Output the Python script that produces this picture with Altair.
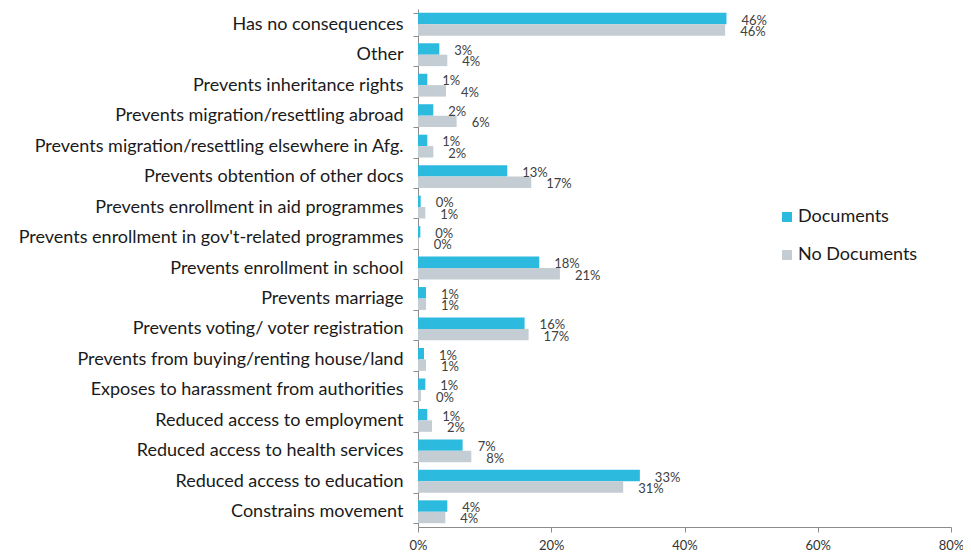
import altair as alt
import pandas as pd

categories = [
    "Has no consequences",
    "Other",
    "Prevents inheritance rights",
    "Prevents migration/resettling abroad",
    "Prevents migration/resettling elsewhere in Afg.",
    "Prevents obtention of other docs",
    "Prevents enrollment in aid programmes",
    "Prevents enrollment in gov't-related programmes",
    "Prevents enrollment in school",
    "Prevents marriage",
    "Prevents voting/ voter registration",
    "Prevents from buying/renting house/land",
    "Exposes to harassment from authorities",
    "Reduced access to employment",
    "Reduced access to health services",
    "Reduced access to education",
    "Constrains movement",
]
documents = [46.3, 3.2, 1.4, 2.3, 1.4, 13.4, 0.4, 0.35, 18.2, 1.2, 16.0, 0.9, 1.1, 1.4, 6.7, 33.3, 4.4]
no_documents = [46.1, 4.4, 4.2, 5.8, 2.3, 17.0, 1.1, 0.1, 21.3, 1.2, 16.6, 1.2, 0.45, 2.1, 8.0, 30.8, 4.1]
series = ["Documents", "No Documents"]
colors = ["#2DBADF", "#C4CDD3"]
x_ticks = [0, 20, 40, 60, 80]

rows = []
for c, d, n in zip(categories, documents, no_documents):
    rows.append({"category": c, "series": series[0], "value": d})
    rows.append({"category": c, "series": series[1], "value": n})
df = pd.DataFrame(rows)
df["label"] = df["value"].round().astype(int).astype(str) + "%"

FONT = "Lato"

y_enc = alt.Y(
    "category:N",
    sort=categories,
    scale=alt.Scale(paddingInner=0.25, paddingOuter=0.125),
    axis=alt.Axis(
        title=None,
        tickBand="extent",
        labelFont=FONT,
        labelFontSize=18,
        labelColor="#1a1a1a",
        labelLimit=420,
        domainColor="#8c8c8c",
        tickColor="#8c8c8c",
        tickSize=5,
        labelPadding=10,
        grid=False,
    ),
)
yoff_enc = alt.YOffset("series:N", sort=series)
x_enc = alt.X(
    "value:Q",
    scale=alt.Scale(domain=[0, 80]),
    axis=alt.Axis(
        title=None,
        values=x_ticks,
        labelExpr="datum.value + '%'",
        labelFont=FONT,
        labelFontSize=13,
        labelColor="#333333",
        labelFlush=False,
        domainColor="#8c8c8c",
        tickColor="#8c8c8c",
        tickSize=5,
        labelPadding=7,
        grid=False,
    ),
)

bars = alt.Chart(df).mark_bar().encode(
    y=y_enc,
    yOffset=yoff_enc,
    x=x_enc,
    color=alt.Color(
        "series:N",
        scale=alt.Scale(domain=series, range=colors),
        legend=alt.Legend(
            title=None,
            orient="none",
            legendX=360,
            legendY=199,
            symbolType="square",
            symbolSize=100,
            symbolStrokeWidth=0,
            labelFont=FONT,
            labelFontSize=18,
            labelColor="#1a1a1a",
            labelOffset=2,
            rowPadding=20,
        ),
    ),
)

text = alt.Chart(df).mark_text(
    align="left", baseline="middle", dx=15, dy=2, font=FONT, fontSize=13, color="#404040"
).encode(
    y=alt.Y("category:N", sort=categories),
    yOffset=yoff_enc,
    x=alt.X("value:Q"),
    text="label:N",
)

chart = (
    alt.layer(bars, text)
    .properties(
        width=533,
        height=518,
        autosize=alt.AutoSizeParams(type="none"),
        padding={"left": 410, "top": 1, "right": 12, "bottom": 26},
    )
    .configure_view(stroke=None)
)

chart.save("out.html", embed_options={"renderer": "svg", "actions": False})
